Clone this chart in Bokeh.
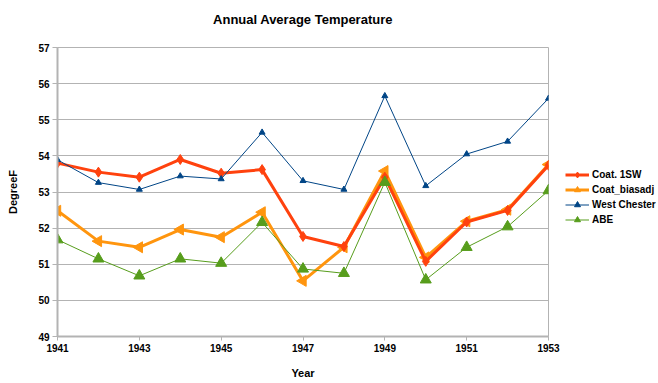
import numpy as np
from bokeh.plotting import figure
from bokeh.models import Legend, LegendItem, FixedTicker, Range1d
from bokeh.embed import file_html
from bokeh.resources import INLINE

years = list(range(1941, 1954))
coat_1sw = [53.80, 53.55, 53.41, 53.90, 53.52, 53.62, 51.77, 51.49, 53.41, 51.08, 52.17, 52.49, 53.74]
coat_biasadj = [52.48, 51.64, 51.47, 51.96, 51.75, 52.44, 50.54, 51.47, 53.58, 51.19, 52.19, 52.51, 53.76]
west_chester = [53.89, 53.26, 53.07, 53.44, 53.36, 54.65, 53.31, 53.07, 55.66, 53.17, 54.05, 54.40, 55.59]
abe = [51.68, 51.15, 50.68, 51.15, 51.03, 52.16, 50.87, 50.75, 53.27, 50.57, 51.47, 52.04, 53.04]
x_ticks = [1941, 1943, 1945, 1947, 1949, 1951, 1953]
y_ticks = list(range(49, 58))

FONT = "Liberation Sans"
GRID = "#b3b3b3"

p = figure(frame_width=491, frame_height=289, output_backend="svg", toolbar_location=None,
           x_range=Range1d(1941, 1953), y_range=Range1d(49, 57),
           min_border_left=57, min_border_right=110, min_border_top=47, min_border_bottom=47,
           title="Annual Average Temperature\n")

p.title.align = "center"
p.title.text_font = FONT
p.title.text_font_size = "13px"
p.title.text_font_style = "bold"
p.title.text_color = "black"
p.title.standoff = 12

p.outline_line_color = GRID
p.xgrid.grid_line_color = None
p.ygrid.grid_line_color = GRID
p.ygrid.ticker = FixedTicker(ticks=y_ticks)

p.xaxis.ticker = FixedTicker(ticks=x_ticks)
p.yaxis.ticker = FixedTicker(ticks=y_ticks)
for ax in (p.xaxis[0], p.yaxis[0]):
    ax.axis_line_color = GRID
    ax.axis_line_width = 2
    ax.major_tick_line_color = GRID
    ax.major_tick_line_width = 1
    ax.minor_tick_line_color = None
    ax.major_tick_in = 0
    ax.major_label_text_font = FONT
    ax.major_label_text_font_size = "10px"
    ax.major_label_text_font_style = "bold"
    ax.major_label_text_color = "black"
    ax.axis_label_text_font = FONT
    ax.axis_label_text_font_size = "11px"
    ax.axis_label_text_font_style = "bold"
    ax.axis_label_text_color = "black"

p.xaxis.axis_label = "Year"
p.yaxis.axis_label = "DegreeF"
p.xaxis.major_tick_out = 4
p.xaxis.major_label_standoff = 3
p.xaxis.axis_label_standoff = 12
p.yaxis.major_tick_out = 5
p.yaxis.major_label_standoff = 3
p.yaxis.axis_label_standoff = 16

RED = "#ff420e"
ORANGE = "#ff950e"
BLUE = "#004586"
GREEN = "#579d1c"

l2 = p.line(years, coat_biasadj, line_color=ORANGE, line_width=3)
m2 = p.scatter(years, coat_biasadj, marker="triangle", angle=np.pi / 2, size=11,
               fill_color=ORANGE, line_color=ORANGE)
l1 = p.line(years, coat_1sw, line_color=RED, line_width=3)
m1 = p.scatter(years, coat_1sw, marker="diamond", size=10, fill_color=RED, line_color=RED)
l3 = p.line(years, west_chester, line_color=BLUE, line_width=1)
m3 = p.scatter(years, west_chester, marker="triangle", size=6, fill_color=BLUE, line_color=BLUE)
l4 = p.line(years, abe, line_color=GREEN, line_width=1)
m4 = p.scatter(years, abe, marker="triangle", size=11, fill_color=GREEN, line_color=GREEN)

legend = Legend(items=[
    LegendItem(label="Coat. 1SW", renderers=[l1, m1]),
    LegendItem(label="Coat_biasadj", renderers=[l2, m2]),
    LegendItem(label="West Chester", renderers=[l3, m3]),
    LegendItem(label="ABE", renderers=[l4, m4]),
], location="center_left")
legend.title = " "
legend.title_text_font_size = "8px"
legend.title_standoff = 1
legend.border_line_color = None
legend.background_fill_alpha = 0
legend.padding = 0
legend.margin = 17
legend.spacing = 0
legend.glyph_width = 24
legend.glyph_height = 15
legend.label_height = 15
legend.label_standoff = 3
legend.label_text_font = FONT
legend.label_text_font_size = "10px"
legend.label_text_font_style = "bold"
legend.label_text_color = "black"
p.add_layout(legend, "right")

open("out.html", "w").write(file_html(p, INLINE))
